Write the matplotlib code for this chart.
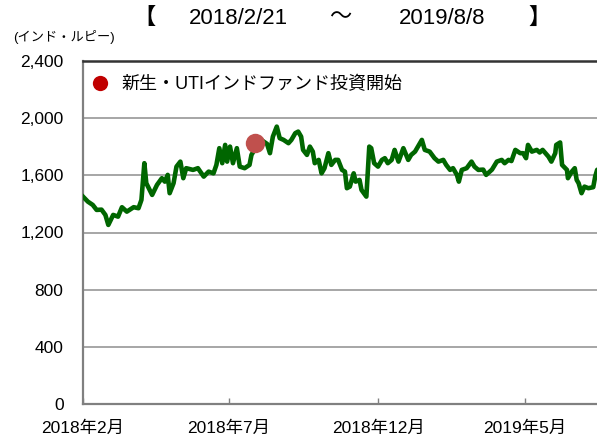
import matplotlib
matplotlib.use("Agg")
import matplotlib.pyplot as plt
from matplotlib.lines import Line2D
import pandas as pd

plt.rcParams['font.family'] = ['Liberation Sans', 'Noto Sans CJK JP', 'DejaVu Sans']

# ---- data ----
dates = [
    "2018-02-21", "2018-02-26", "2018-03-03", "2018-03-07", "2018-03-12", "2018-03-16",
    "2018-03-19", "2018-03-24", "2018-03-29", "2018-04-02", "2018-04-07", "2018-04-14",
    "2018-04-19", "2018-04-22", "2018-04-25", "2018-04-27", "2018-05-03", "2018-05-08",
    "2018-05-13", "2018-05-16", "2018-05-19", "2018-05-21", "2018-05-25", "2018-05-28",
    "2018-06-01", "2018-06-04", "2018-06-07", "2018-06-14", "2018-06-19", "2018-06-25",
    "2018-06-30", "2018-07-05", "2018-07-08", "2018-07-11", "2018-07-14", "2018-07-17",
    "2018-07-19", "2018-07-22", "2018-07-25", "2018-07-29", "2018-08-01", "2018-08-06",
    "2018-08-11", "2018-08-13", "2018-08-17", "2018-08-23", "2018-08-29", "2018-09-01",
    "2018-09-04", "2018-09-08", "2018-09-11", "2018-09-15", "2018-09-20", "2018-09-23",
    "2018-09-27", "2018-09-30", "2018-10-03", "2018-10-05", "2018-10-09", "2018-10-12",
    "2018-10-15", "2018-10-17", "2018-10-21", "2018-10-24", "2018-10-27", "2018-10-31",
    "2018-11-03", "2018-11-07", "2018-11-10", "2018-11-14", "2018-11-17", "2018-11-19",
    "2018-11-22", "2018-11-26", "2018-11-28", "2018-12-02", "2018-12-04", "2018-12-09",
    "2018-12-12", "2018-12-14", "2018-12-17", "2018-12-21", "2018-12-25", "2018-12-28",
    "2018-12-31", "2019-01-04", "2019-01-07", "2019-01-11", "2019-01-16", "2019-01-21",
    "2019-01-24", "2019-01-28", "2019-01-31", "2019-02-04", "2019-02-07", "2019-02-12",
    "2019-02-17", "2019-02-21", "2019-02-26", "2019-03-01", "2019-03-05", "2019-03-08",
    "2019-03-12", "2019-03-14", "2019-03-17", "2019-03-22", "2019-03-27", "2019-03-30",
    "2019-04-03", "2019-04-08", "2019-04-11", "2019-04-17", "2019-04-22", "2019-04-27",
    "2019-04-30", "2019-05-04", "2019-05-07", "2019-05-11", "2019-05-16", "2019-05-19",
    "2019-05-22", "2019-05-24", "2019-05-28", "2019-06-02", "2019-06-05", "2019-06-08",
    "2019-06-14", "2019-06-17", "2019-06-21", "2019-06-22", "2019-06-26", "2019-06-28",
    "2019-07-03", "2019-07-04", "2019-07-08", "2019-07-11", "2019-07-13", "2019-07-15",
    "2019-07-18", "2019-07-21", "2019-07-25", "2019-07-30", "2019-08-01", "2019-08-03",
    "2019-08-08",
]
values = [
    1451, 1416, 1393, 1358, 1360, 1323,
    1253, 1323, 1311, 1377, 1346, 1377,
    1370, 1428, 1685, 1545, 1463, 1533,
    1580, 1556, 1603, 1475, 1545, 1661,
    1696, 1580, 1650, 1638, 1650, 1591,
    1626, 1614, 1673, 1790, 1685, 1813,
    1696, 1801, 1685, 1790, 1661, 1650,
    1673, 1743, 1790, 1848, 1820, 1755,
    1871, 1941, 1860, 1848, 1825, 1848,
    1895, 1906, 1871, 1778, 1743, 1801,
    1766, 1685, 1708, 1614, 1650, 1755,
    1673, 1708, 1708, 1638, 1626, 1510,
    1521, 1614, 1556, 1568, 1498, 1451,
    1801, 1790, 1685, 1661, 1708, 1720,
    1685, 1708, 1778, 1696, 1790, 1708,
    1743, 1766, 1801, 1848, 1778, 1766,
    1720, 1696, 1708, 1673, 1638, 1650,
    1603, 1556, 1638, 1650, 1696, 1661,
    1638, 1640, 1603, 1640, 1696, 1708,
    1685, 1708, 1700, 1778, 1755, 1755,
    1720, 1813, 1766, 1778, 1760, 1778,
    1731, 1696, 1755, 1813, 1830, 1673,
    1638, 1580, 1626, 1650, 1568, 1545,
    1475, 1521, 1510, 1517, 1591, 1638,
    1655,
]
marker_date = "2018-08-17"
marker_value = 1826
legend_label = "新生・UTIインドファンド投資開始"

x_start, x_end = "2018-02-21", "2019-08-08"
xtick_dates = ["2018-02-21", "2018-07-21", "2018-12-21", "2019-05-21"]
xtick_labels = ["2018年2月", "2018年7月", "2018年12月", "2019年5月"]
ytick_values = [0, 400, 800, 1200, 1600, 2000, 2400]
ytick_labels = ["0", "400", "800", "1,200", "1,600", "2,000", "2,400"]
unit_label = "(インド・ルピー)"
title_parts = ["【", "2018/2/21", "～", "2019/8/8", "】"]

# ---- figure ----
W, H = 597, 437
fig = plt.figure(figsize=(W / 100, H / 100), dpi=100)
left, right, bottom, top = 83, 602, 404, 61
ax = fig.add_axes([left / W, 1 - bottom / H, (right - left) / W, (bottom - top) / H])

d = pd.to_datetime(dates)
ax.plot(d, values, color="#006600", lw=3.3, solid_joinstyle="round", zorder=3)
ax.plot(pd.to_datetime([marker_date]), [marker_value], "o", color="#C0504D",
        markersize=14, markeredgewidth=0, zorder=4)

ax.set_xlim(pd.Timestamp(x_start), pd.Timestamp(x_end))
ax.set_ylim(ytick_values[0], ytick_values[-1])

ax.set_yticks(ytick_values)
ax.set_yticklabels(ytick_labels, fontsize=12.5)
ax.set_xticks(pd.to_datetime(xtick_dates))
ax.set_xticklabels(xtick_labels, fontsize=12.5)

ax.tick_params(axis="y", length=0, pad=14)
ax.tick_params(axis="x", direction="in", length=4, width=1, color="#808080", pad=12)

ax.grid(axis="y", color="#A6A6A6", lw=1.4)
ax.set_axisbelow(True)
for s in ["left", "bottom"]:
    ax.spines[s].set_color("#808080")
    ax.spines[s].set_linewidth(1.6)
ax.spines["top"].set_color("#333333")
ax.spines["top"].set_linewidth(1.8)
ax.spines["right"].set_visible(False)

handle = Line2D([], [], marker="o", color="#C00000", linestyle="none",
                markersize=11, markeredgewidth=0)
ax.legend([handle], [legend_label], loc="center left", frameon=False,
          fontsize=13, handlelength=1.0, handletextpad=0.7,
          borderaxespad=0, borderpad=0,
          bbox_to_anchor=(8 / (right - left), (bottom - 85) / (bottom - top)))

# unit label and title
fig.text(13 / W, 1 - 37 / H, unit_label, fontsize=9.5, va="center", ha="left")
title_x = [145, 238, 340, 442, 540]
for tx, part in zip(title_x, title_parts):
    fig.text(tx / W, 1 - 18 / H, part, fontsize=16, va="center", ha="center",
             fontweight="bold" if part in ("【", "】") else "normal")

fig.savefig("out.png", dpi=100)
